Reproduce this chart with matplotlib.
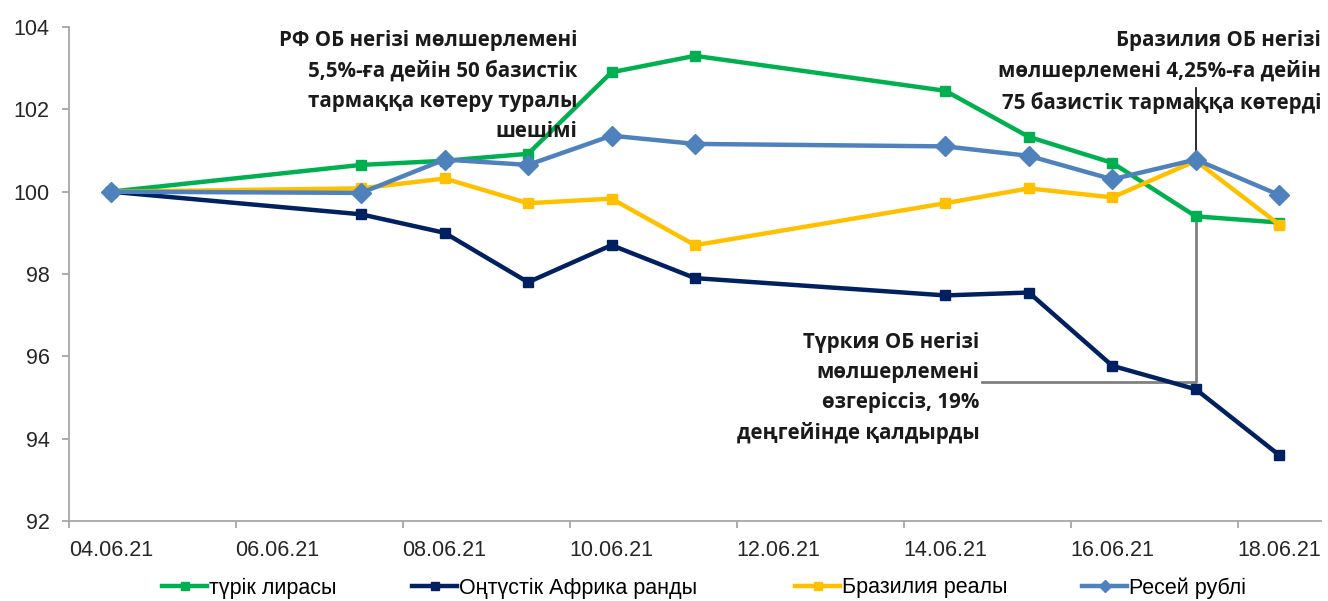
import matplotlib.pyplot as plt
import matplotlib.dates as mdates
import pandas as pd
import numpy as np

# -----------------------------------
# DATA
# -----------------------------------
dates = pd.to_datetime(["2021-06-04", "2021-06-07", "2021-06-08", "2021-06-09",
                        "2021-06-10", "2021-06-11", "2021-06-14", "2021-06-15",
                        "2021-06-16", "2021-06-17", "2021-06-18"])

try_lira = [100, 100.65, 100.75, 100.92, 102.9, 103.3, 102.45, 101.33, 100.7, 99.4, 99.25]
zar_rand = [100, 99.45, 99.0, 97.8, 98.7, 97.9, 97.48, 97.55, 95.77, 95.2, 93.6]
brl_real = [100, 100.08, 100.32, 99.72, 99.83, 98.7, 99.72, 100.08, 99.86, 100.75, 99.2]
rub_ruble = [100, 99.97, 100.78, 100.65, 101.36, 101.16, 101.1, 100.87, 100.3, 100.78, 99.92]

series_names = ["түрік лирасы", "Оңтүстік Африка ранды", "Бразилия реалы", "Ресей рублі"]
series_colors = ["#00B050", "#002060", "#FFC000", "#4F81BD"]
series_markers = ["s", "s", "s", "D"]

tick_dates = pd.date_range("2021-06-04", "2021-06-18", freq="2D")

note_rf = "РФ ОБ негізі мөлшерлемені\n5,5%-ға дейін 50 базистік\nтармаққа көтеру туралы\nшешімі"
note_br = "Бразилия ОБ негізі\nмөлшерлемені 4,25%-ға дейін\n75 базистік тармаққа көтерді"
note_tr = "Түркия ОБ негізі\nмөлшерлемені\nөзгеріссіз, 19%\nдеңгейінде қалдырды"

# -----------------------------------
# PLOT
# -----------------------------------
W, H = 1328, 601
fig = plt.figure(figsize=(W / 100, H / 100), dpi=100)
ax = fig.add_axes([69 / W, 1 - 521 / H, (1321 - 69) / W, (521 - 27) / H])

# points (and date labels) sit in the middle of each day
half_day = pd.Timedelta(hours=12)
xpos = dates + half_day

all_series = [try_lira, zar_rand, brl_real, rub_ruble]
lines = []
for values, name, color, marker in zip(all_series, series_names, series_colors, series_markers):
    ms = 10 if marker == "D" else 7.5
    ln, = ax.plot(xpos, values, color=color, linewidth=3.2, marker=marker,
                  markersize=ms, label=name, zorder=3)
    lines.append(ln)

ax.set_xlim(pd.Timestamp("2021-06-04"), pd.Timestamp("2021-06-19"))
ax.set_ylim(92, 104)
ax.set_yticks(np.arange(92, 105, 2))

# tick marks on day boundaries, labels centred on the day
ax.set_xticks(tick_dates)
ax.set_xticklabels([])
ax.set_xticks(tick_dates + half_day, minor=True)
ax.xaxis.set_minor_formatter(mdates.DateFormatter("%d.%m.%y"))

for side in ["top", "right"]:
    ax.spines[side].set_visible(False)
for side in ["left", "bottom"]:
    ax.spines[side].set_color("#A6A6A6")
    ax.spines[side].set_linewidth(1.3)

ax.tick_params(axis="both", colors="#A6A6A6", length=5, width=1.3,
               labelcolor="#262626", labelsize=15.5)
ax.tick_params(axis="x", which="minor", length=0, pad=14,
               labelcolor="#262626", labelsize=15.5)
ax.tick_params(axis="y", pad=9)
for lbl in ax.get_yticklabels() + ax.get_xticklabels(minor=True):
    lbl.set_fontfamily("Liberation Sans")

# annotations
note_font = dict(family="Open Sans", fontweight="bold", fontsize=14.8,
                 color="#1a1a1a", linespacing=1.55)

ax.text(pd.Timestamp("2021-06-10 02:10"), 103.92, note_rf, ha="right", va="top", **note_font)
ax.text(pd.Timestamp("2021-06-19"), 103.93, note_br, ha="right", va="top", **note_font)
ax.text(pd.Timestamp("2021-06-14 21:50"), 96.58, note_tr, ha="right", va="top", **note_font)

x17 = pd.Timestamp("2021-06-17 12:00")
ax.plot([x17, x17], [102.52, brl_real[9]], color="#1a1a1a", linewidth=1.3, zorder=2)
ax.plot([pd.Timestamp("2021-06-14 22:30"), x17, x17],
        [95.38, 95.38, try_lira[9]], color="#808080", linewidth=2, zorder=2)

# legend entries placed one by one
legend_x = [162, 412, 795, 1082]
for ln, lx in zip(lines, legend_x):
    leg = fig.legend(handles=[ln], loc="center left", frameon=False,
                     bbox_to_anchor=(lx / W, 1 - 588 / H), borderaxespad=0,
                     borderpad=0, handlelength=2.1, handletextpad=0.1,
                     prop={"family": "Liberation Sans", "size": 15.5})
    for hl in leg.get_lines():
        hl.set_markersize(6)

fig.savefig("out.png", dpi=100)
